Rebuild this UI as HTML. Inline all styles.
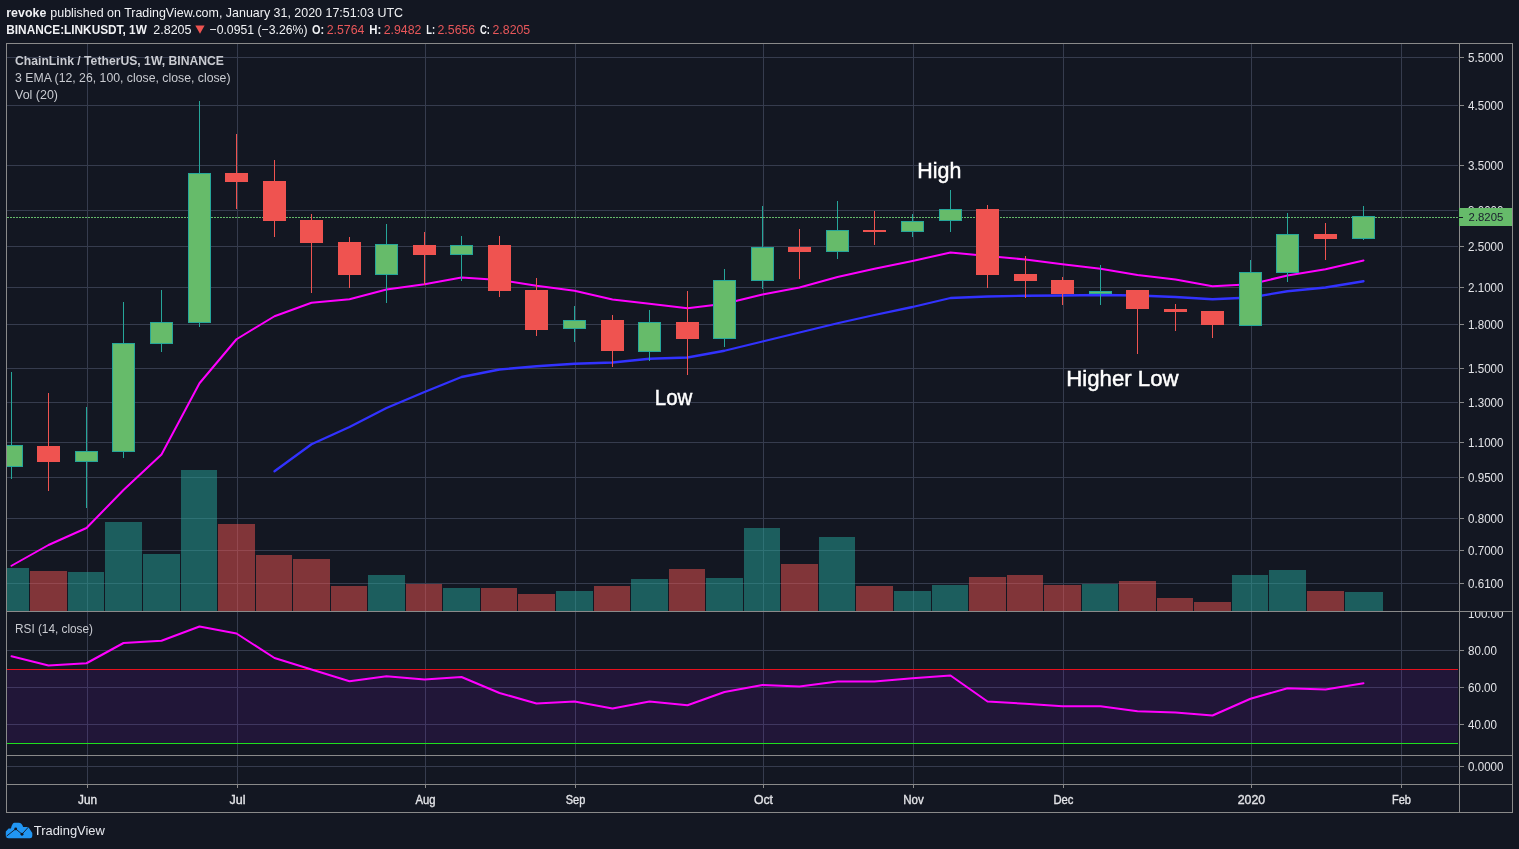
<!DOCTYPE html><html><head><meta charset="utf-8"><title>LINKUSDT chart</title><style>html,body{margin:0;padding:0;background:#131722;overflow:hidden}svg text{white-space:pre}</style></head><body><svg width="1519" height="849" viewBox="0 0 1519 849" style="display:block">
<rect width="1519" height="849" fill="#131722"/>
<defs><clipPath id="cp"><rect x="7" y="44" width="1452" height="568"/></clipPath><clipPath id="cr"><rect x="7" y="612" width="1452" height="143"/></clipPath><clipPath id="ca"><rect x="1460" y="612" width="52" height="143"/></clipPath></defs>
<g shape-rendering="crispEdges" fill="#363c4e">
<rect x="87" y="44" width="1" height="567"/>
<rect x="87" y="612" width="1" height="143"/>
<rect x="87" y="756" width="1" height="28"/>
<rect x="237" y="44" width="1" height="567"/>
<rect x="237" y="612" width="1" height="143"/>
<rect x="237" y="756" width="1" height="28"/>
<rect x="425" y="44" width="1" height="567"/>
<rect x="425" y="612" width="1" height="143"/>
<rect x="425" y="756" width="1" height="28"/>
<rect x="575" y="44" width="1" height="567"/>
<rect x="575" y="612" width="1" height="143"/>
<rect x="575" y="756" width="1" height="28"/>
<rect x="763" y="44" width="1" height="567"/>
<rect x="763" y="612" width="1" height="143"/>
<rect x="763" y="756" width="1" height="28"/>
<rect x="913" y="44" width="1" height="567"/>
<rect x="913" y="612" width="1" height="143"/>
<rect x="913" y="756" width="1" height="28"/>
<rect x="1063" y="44" width="1" height="567"/>
<rect x="1063" y="612" width="1" height="143"/>
<rect x="1063" y="756" width="1" height="28"/>
<rect x="1251" y="44" width="1" height="567"/>
<rect x="1251" y="612" width="1" height="143"/>
<rect x="1251" y="756" width="1" height="28"/>
<rect x="1401" y="44" width="1" height="567"/>
<rect x="1401" y="612" width="1" height="143"/>
<rect x="1401" y="756" width="1" height="28"/>
<rect x="7" y="57" width="1451" height="1"/>
<rect x="7" y="105" width="1451" height="1"/>
<rect x="7" y="165" width="1451" height="1"/>
<rect x="7" y="210" width="1451" height="1"/>
<rect x="7" y="246" width="1451" height="1"/>
<rect x="7" y="287" width="1451" height="1"/>
<rect x="7" y="324" width="1451" height="1"/>
<rect x="7" y="368" width="1451" height="1"/>
<rect x="7" y="402" width="1451" height="1"/>
<rect x="7" y="442" width="1451" height="1"/>
<rect x="7" y="477" width="1451" height="1"/>
<rect x="7" y="518" width="1451" height="1"/>
<rect x="7" y="550" width="1451" height="1"/>
<rect x="7" y="583" width="1451" height="1"/>
<rect x="7" y="650" width="1451" height="1"/>
<rect x="7" y="687" width="1451" height="1"/>
<rect x="7" y="724" width="1451" height="1"/>
<rect x="7" y="766" width="1451" height="1"/>
</g>
<rect x="7" y="669" width="1451" height="75" fill="#9915ff" fill-opacity="0.1" shape-rendering="crispEdges"/>
<rect x="7" y="669" width="1451" height="1" fill="#e8101c" shape-rendering="crispEdges"/>
<rect x="7" y="743" width="1451" height="1" fill="#1ee01e" shape-rendering="crispEdges"/>
<g shape-rendering="crispEdges" clip-path="url(#cp)">
<rect x="-7" y="568" width="36" height="43" fill="#26a69a" fill-opacity="0.5"/>
<rect x="30" y="571" width="37" height="40" fill="#ef5350" fill-opacity="0.5"/>
<rect x="68" y="572" width="36" height="39" fill="#26a69a" fill-opacity="0.5"/>
<rect x="105" y="522" width="37" height="89" fill="#26a69a" fill-opacity="0.5"/>
<rect x="143" y="554" width="37" height="57" fill="#26a69a" fill-opacity="0.5"/>
<rect x="181" y="470" width="36" height="141" fill="#26a69a" fill-opacity="0.5"/>
<rect x="218" y="524" width="37" height="87" fill="#ef5350" fill-opacity="0.5"/>
<rect x="256" y="555" width="36" height="56" fill="#ef5350" fill-opacity="0.5"/>
<rect x="293" y="559" width="37" height="52" fill="#ef5350" fill-opacity="0.5"/>
<rect x="331" y="586" width="36" height="25" fill="#ef5350" fill-opacity="0.5"/>
<rect x="368" y="575" width="37" height="36" fill="#26a69a" fill-opacity="0.5"/>
<rect x="406" y="584" width="36" height="27" fill="#ef5350" fill-opacity="0.5"/>
<rect x="443" y="588" width="37" height="23" fill="#26a69a" fill-opacity="0.5"/>
<rect x="481" y="588" width="36" height="23" fill="#ef5350" fill-opacity="0.5"/>
<rect x="518" y="594" width="37" height="17" fill="#ef5350" fill-opacity="0.5"/>
<rect x="556" y="591" width="37" height="20" fill="#26a69a" fill-opacity="0.5"/>
<rect x="594" y="586" width="36" height="25" fill="#ef5350" fill-opacity="0.5"/>
<rect x="631" y="579" width="37" height="32" fill="#26a69a" fill-opacity="0.5"/>
<rect x="669" y="569" width="36" height="42" fill="#ef5350" fill-opacity="0.5"/>
<rect x="706" y="578" width="37" height="33" fill="#26a69a" fill-opacity="0.5"/>
<rect x="744" y="528" width="36" height="83" fill="#26a69a" fill-opacity="0.5"/>
<rect x="781" y="564" width="37" height="47" fill="#ef5350" fill-opacity="0.5"/>
<rect x="819" y="537" width="36" height="74" fill="#26a69a" fill-opacity="0.5"/>
<rect x="856" y="586" width="37" height="25" fill="#ef5350" fill-opacity="0.5"/>
<rect x="894" y="591" width="37" height="20" fill="#26a69a" fill-opacity="0.5"/>
<rect x="932" y="585" width="36" height="26" fill="#26a69a" fill-opacity="0.5"/>
<rect x="969" y="577" width="37" height="34" fill="#ef5350" fill-opacity="0.5"/>
<rect x="1007" y="575" width="36" height="36" fill="#ef5350" fill-opacity="0.5"/>
<rect x="1044" y="585" width="37" height="26" fill="#ef5350" fill-opacity="0.5"/>
<rect x="1082" y="584" width="36" height="27" fill="#26a69a" fill-opacity="0.5"/>
<rect x="1119" y="581" width="37" height="30" fill="#ef5350" fill-opacity="0.5"/>
<rect x="1157" y="598" width="36" height="13" fill="#ef5350" fill-opacity="0.5"/>
<rect x="1194" y="602" width="37" height="9" fill="#ef5350" fill-opacity="0.5"/>
<rect x="1232" y="575" width="36" height="36" fill="#26a69a" fill-opacity="0.5"/>
<rect x="1269" y="570" width="37" height="41" fill="#26a69a" fill-opacity="0.5"/>
<rect x="1307" y="591" width="37" height="20" fill="#ef5350" fill-opacity="0.5"/>
<rect x="1345" y="592" width="38" height="19" fill="#26a69a" fill-opacity="0.5"/>
</g>
<line x1="7" y1="217.5" x2="1458" y2="217.5" stroke="#66bb6a" stroke-width="1" stroke-dasharray="2 1" shape-rendering="crispEdges"/>
<polyline points="274.50,471.25 311.50,444.25 349.50,427.00 386.50,408.00 424.50,392.00 461.50,377.00 499.50,369.50 536.50,366.25 574.50,363.75 612.50,362.50 649.50,358.75 687.50,357.50 724.50,350.75 762.50,341.50 799.50,332.50 837.50,323.25 874.50,315.00 912.50,307.00 950.50,298.00 987.50,296.50 1025.50,295.75 1062.50,295.50 1100.50,295.00 1137.50,295.50 1175.50,297.00 1212.50,299.25 1250.50,297.50 1287.50,291.25 1325.50,287.50 1363.50,281.25" fill="none" stroke="#3232ff" stroke-width="2.3" stroke-linejoin="round" stroke-linecap="round" clip-path="url(#cp)"/>
<polyline points="11.50,565.75 48.50,545.00 86.50,528.00 123.50,490.00 161.50,454.50 199.50,383.25 236.50,339.25 274.50,316.25 311.50,302.75 349.50,299.25 386.50,289.50 424.50,284.25 461.50,277.50 499.50,280.00 536.50,285.75 574.50,290.75 612.50,299.50 649.50,303.75 687.50,308.25 724.50,303.75 762.50,294.50 799.50,287.50 837.50,277.00 874.50,268.75 912.50,261.00 950.50,252.50 987.50,256.00 1025.50,259.50 1062.50,264.25 1100.50,268.75 1137.50,275.00 1175.50,279.50 1212.50,286.25 1250.50,284.25 1287.50,275.50 1325.50,269.25 1363.50,260.50" fill="none" stroke="#ff00ff" stroke-width="2" stroke-linejoin="round" stroke-linecap="round" clip-path="url(#cp)"/>
<g shape-rendering="crispEdges" clip-path="url(#cp)">
<rect x="11" y="372" width="1" height="107" fill="#26a69a"/>
<rect x="0" y="445" width="23" height="22" fill="#26a69a"/>
<rect x="1" y="446" width="21" height="20" fill="#66bb6a"/>
<rect x="48" y="393" width="1" height="98" fill="#ef5350"/>
<rect x="37" y="446" width="23" height="16" fill="#ef5350"/>
<rect x="86" y="407" width="1" height="101" fill="#26a69a"/>
<rect x="75" y="451" width="23" height="11" fill="#26a69a"/>
<rect x="76" y="452" width="21" height="9" fill="#66bb6a"/>
<rect x="123" y="302" width="1" height="156" fill="#26a69a"/>
<rect x="112" y="343" width="23" height="109" fill="#26a69a"/>
<rect x="113" y="344" width="21" height="107" fill="#66bb6a"/>
<rect x="161" y="290" width="1" height="62" fill="#26a69a"/>
<rect x="150" y="322" width="23" height="22" fill="#26a69a"/>
<rect x="151" y="323" width="21" height="20" fill="#66bb6a"/>
<rect x="199" y="101" width="1" height="226" fill="#26a69a"/>
<rect x="188" y="173" width="23" height="150" fill="#26a69a"/>
<rect x="189" y="174" width="21" height="148" fill="#66bb6a"/>
<rect x="236" y="134" width="1" height="75" fill="#ef5350"/>
<rect x="225" y="173" width="23" height="9" fill="#ef5350"/>
<rect x="274" y="160" width="1" height="77" fill="#ef5350"/>
<rect x="263" y="181" width="23" height="40" fill="#ef5350"/>
<rect x="311" y="214" width="1" height="79" fill="#ef5350"/>
<rect x="300" y="220" width="23" height="23" fill="#ef5350"/>
<rect x="349" y="237" width="1" height="51" fill="#ef5350"/>
<rect x="338" y="242" width="23" height="33" fill="#ef5350"/>
<rect x="386" y="224" width="1" height="79" fill="#26a69a"/>
<rect x="375" y="244" width="23" height="31" fill="#26a69a"/>
<rect x="376" y="245" width="21" height="29" fill="#66bb6a"/>
<rect x="424" y="232" width="1" height="53" fill="#ef5350"/>
<rect x="413" y="245" width="23" height="10" fill="#ef5350"/>
<rect x="461" y="236" width="1" height="45" fill="#26a69a"/>
<rect x="450" y="245" width="23" height="10" fill="#26a69a"/>
<rect x="451" y="246" width="21" height="8" fill="#66bb6a"/>
<rect x="499" y="236" width="1" height="61" fill="#ef5350"/>
<rect x="488" y="245" width="23" height="46" fill="#ef5350"/>
<rect x="536" y="278" width="1" height="58" fill="#ef5350"/>
<rect x="525" y="290" width="23" height="40" fill="#ef5350"/>
<rect x="574" y="306" width="1" height="36" fill="#26a69a"/>
<rect x="563" y="320" width="23" height="9" fill="#26a69a"/>
<rect x="564" y="321" width="21" height="7" fill="#66bb6a"/>
<rect x="612" y="315" width="1" height="52" fill="#ef5350"/>
<rect x="601" y="320" width="23" height="31" fill="#ef5350"/>
<rect x="649" y="310" width="1" height="51" fill="#26a69a"/>
<rect x="638" y="322" width="23" height="30" fill="#26a69a"/>
<rect x="639" y="323" width="21" height="28" fill="#66bb6a"/>
<rect x="687" y="291" width="1" height="84" fill="#ef5350"/>
<rect x="676" y="322" width="23" height="17" fill="#ef5350"/>
<rect x="724" y="269" width="1" height="78" fill="#26a69a"/>
<rect x="713" y="280" width="23" height="59" fill="#26a69a"/>
<rect x="714" y="281" width="21" height="57" fill="#66bb6a"/>
<rect x="762" y="206" width="1" height="83" fill="#26a69a"/>
<rect x="751" y="247" width="23" height="34" fill="#26a69a"/>
<rect x="752" y="248" width="21" height="32" fill="#66bb6a"/>
<rect x="799" y="229" width="1" height="50" fill="#ef5350"/>
<rect x="788" y="247" width="23" height="5" fill="#ef5350"/>
<rect x="837" y="201" width="1" height="58" fill="#26a69a"/>
<rect x="826" y="230" width="23" height="22" fill="#26a69a"/>
<rect x="827" y="231" width="21" height="20" fill="#66bb6a"/>
<rect x="874" y="211" width="1" height="34" fill="#ef5350"/>
<rect x="863" y="230" width="23" height="2" fill="#ef5350"/>
<rect x="912" y="214" width="1" height="23" fill="#26a69a"/>
<rect x="901" y="221" width="23" height="11" fill="#26a69a"/>
<rect x="902" y="222" width="21" height="9" fill="#66bb6a"/>
<rect x="950" y="190" width="1" height="42" fill="#26a69a"/>
<rect x="939" y="209" width="23" height="12" fill="#26a69a"/>
<rect x="940" y="210" width="21" height="10" fill="#66bb6a"/>
<rect x="987" y="205" width="1" height="83" fill="#ef5350"/>
<rect x="976" y="209" width="23" height="66" fill="#ef5350"/>
<rect x="1025" y="256" width="1" height="42" fill="#ef5350"/>
<rect x="1014" y="274" width="23" height="7" fill="#ef5350"/>
<rect x="1062" y="277" width="1" height="28" fill="#ef5350"/>
<rect x="1051" y="280" width="23" height="14" fill="#ef5350"/>
<rect x="1100" y="265" width="1" height="40" fill="#26a69a"/>
<rect x="1089" y="291" width="23" height="3" fill="#26a69a"/>
<rect x="1090" y="292" width="21" height="1" fill="#66bb6a"/>
<rect x="1137" y="290" width="1" height="64" fill="#ef5350"/>
<rect x="1126" y="290" width="23" height="19" fill="#ef5350"/>
<rect x="1175" y="304" width="1" height="27" fill="#ef5350"/>
<rect x="1164" y="309" width="23" height="3" fill="#ef5350"/>
<rect x="1212" y="311" width="1" height="27" fill="#ef5350"/>
<rect x="1201" y="311" width="23" height="14" fill="#ef5350"/>
<rect x="1250" y="260" width="1" height="66" fill="#26a69a"/>
<rect x="1239" y="272" width="23" height="54" fill="#26a69a"/>
<rect x="1240" y="273" width="21" height="52" fill="#66bb6a"/>
<rect x="1287" y="213" width="1" height="69" fill="#26a69a"/>
<rect x="1276" y="234" width="23" height="39" fill="#26a69a"/>
<rect x="1277" y="235" width="21" height="37" fill="#66bb6a"/>
<rect x="1325" y="223" width="1" height="37" fill="#ef5350"/>
<rect x="1314" y="234" width="23" height="5" fill="#ef5350"/>
<rect x="1363" y="206" width="1" height="34" fill="#26a69a"/>
<rect x="1352" y="216" width="23" height="23" fill="#26a69a"/>
<rect x="1353" y="217" width="21" height="21" fill="#66bb6a"/>
</g>
<polyline points="11.50,656.25 48.50,665.50 86.50,663.25 123.50,643.00 161.50,640.75 199.50,626.50 236.50,633.50 274.50,658.00 311.50,669.50 349.50,681.25 386.50,676.25 424.50,679.50 461.50,677.00 499.50,693.00 536.50,703.50 574.50,701.50 612.50,708.50 649.50,701.50 687.50,705.25 724.50,692.00 762.50,685.00 799.50,686.50 837.50,681.50 874.50,681.50 912.50,678.25 950.50,675.50 987.50,701.50 1025.50,703.75 1062.50,706.25 1100.50,706.25 1137.50,711.25 1175.50,712.50 1212.50,715.50 1250.50,698.75 1287.50,688.25 1325.50,689.50 1363.50,683.25" fill="none" stroke="#ff00ff" stroke-width="2" stroke-linejoin="round" stroke-linecap="round" clip-path="url(#cr)"/>
<g shape-rendering="crispEdges" fill="#8a8a8a">
<rect x="6" y="43" width="1507" height="1"/>
<rect x="6" y="812" width="1507" height="1"/>
<rect x="6" y="43" width="1" height="770"/>
<rect x="1512" y="43" width="1" height="770"/>
<rect x="1459" y="43" width="1" height="770"/>
<rect x="6" y="611" width="1507" height="1"/>
<rect x="6" y="755" width="1507" height="1"/>
<rect x="6" y="784" width="1507" height="1"/>
<rect x="87" y="785" width="1" height="3"/>
<rect x="237" y="785" width="1" height="3"/>
<rect x="425" y="785" width="1" height="3"/>
<rect x="575" y="785" width="1" height="3"/>
<rect x="763" y="785" width="1" height="3"/>
<rect x="913" y="785" width="1" height="3"/>
<rect x="1063" y="785" width="1" height="3"/>
<rect x="1251" y="785" width="1" height="3"/>
<rect x="1401" y="785" width="1" height="3"/>
<rect x="1460" y="57" width="4" height="1"/>
<rect x="1460" y="105" width="4" height="1"/>
<rect x="1460" y="165" width="4" height="1"/>
<rect x="1460" y="210" width="4" height="1"/>
<rect x="1460" y="246" width="4" height="1"/>
<rect x="1460" y="287" width="4" height="1"/>
<rect x="1460" y="324" width="4" height="1"/>
<rect x="1460" y="368" width="4" height="1"/>
<rect x="1460" y="402" width="4" height="1"/>
<rect x="1460" y="442" width="4" height="1"/>
<rect x="1460" y="477" width="4" height="1"/>
<rect x="1460" y="518" width="4" height="1"/>
<rect x="1460" y="550" width="4" height="1"/>
<rect x="1460" y="583" width="4" height="1"/>
<rect x="1460" y="650" width="4" height="1"/>
<rect x="1460" y="687" width="4" height="1"/>
<rect x="1460" y="724" width="4" height="1"/>
<rect x="1460" y="766" width="4" height="1"/>
</g>
<g font-family="Liberation Sans, Arial, sans-serif">
<g clip-path="url(#ca)">
<text x="1468" y="617.5" font-size="12" fill="#e2e3e7" text-anchor="start" textLength="35.5" lengthAdjust="spacingAndGlyphs" >100.00</text>
</g>
<text x="1468" y="214.5" font-size="12" fill="#e2e3e7" text-anchor="start" textLength="35.5" lengthAdjust="spacingAndGlyphs" >3.0000</text>
<rect x="1459" y="208" width="53" height="18" fill="#66bb6a" shape-rendering="crispEdges"/>
<rect x="1459" y="217" width="4" height="1" fill="#131722" shape-rendering="crispEdges"/>
<text x="1468.6" y="220.7" font-size="11.6" fill="#1a1e2e" text-anchor="start" textLength="34.7" lengthAdjust="spacingAndGlyphs" >2.8205</text>
<text x="1468" y="61.5" font-size="12" fill="#e2e3e7" text-anchor="start" textLength="35.5" lengthAdjust="spacingAndGlyphs" >5.5000</text>
<text x="1468" y="109.5" font-size="12" fill="#e2e3e7" text-anchor="start" textLength="35.5" lengthAdjust="spacingAndGlyphs" >4.5000</text>
<text x="1468" y="169.5" font-size="12" fill="#e2e3e7" text-anchor="start" textLength="35.5" lengthAdjust="spacingAndGlyphs" >3.5000</text>
<text x="1468" y="250.5" font-size="12" fill="#e2e3e7" text-anchor="start" textLength="35.5" lengthAdjust="spacingAndGlyphs" >2.5000</text>
<text x="1468" y="291.5" font-size="12" fill="#e2e3e7" text-anchor="start" textLength="35.5" lengthAdjust="spacingAndGlyphs" >2.1000</text>
<text x="1468" y="328.5" font-size="12" fill="#e2e3e7" text-anchor="start" textLength="35.5" lengthAdjust="spacingAndGlyphs" >1.8000</text>
<text x="1468" y="372.5" font-size="12" fill="#e2e3e7" text-anchor="start" textLength="35.5" lengthAdjust="spacingAndGlyphs" >1.5000</text>
<text x="1468" y="406.5" font-size="12" fill="#e2e3e7" text-anchor="start" textLength="35.5" lengthAdjust="spacingAndGlyphs" >1.3000</text>
<text x="1468" y="446.5" font-size="12" fill="#e2e3e7" text-anchor="start" textLength="35.5" lengthAdjust="spacingAndGlyphs" >1.1000</text>
<text x="1468" y="481.5" font-size="12" fill="#e2e3e7" text-anchor="start" textLength="35.5" lengthAdjust="spacingAndGlyphs" >0.9500</text>
<text x="1468" y="522.5" font-size="12" fill="#e2e3e7" text-anchor="start" textLength="35.5" lengthAdjust="spacingAndGlyphs" >0.8000</text>
<text x="1468" y="554.5" font-size="12" fill="#e2e3e7" text-anchor="start" textLength="35.5" lengthAdjust="spacingAndGlyphs" >0.7000</text>
<text x="1468" y="587.5" font-size="12" fill="#e2e3e7" text-anchor="start" textLength="35.5" lengthAdjust="spacingAndGlyphs" >0.6100</text>
<text x="1468" y="654.5" font-size="12" fill="#e2e3e7" text-anchor="start" textLength="29" lengthAdjust="spacingAndGlyphs" >80.00</text>
<text x="1468" y="691.5" font-size="12" fill="#e2e3e7" text-anchor="start" textLength="29" lengthAdjust="spacingAndGlyphs" >60.00</text>
<text x="1468" y="728.5" font-size="12" fill="#e2e3e7" text-anchor="start" textLength="29" lengthAdjust="spacingAndGlyphs" >40.00</text>
<text x="1468" y="770.5" font-size="12" fill="#e2e3e7" text-anchor="start" textLength="35.5" lengthAdjust="spacingAndGlyphs" >0.0000</text>
<text x="87.5" y="804" font-size="12" fill="#e2e3e7" text-anchor="middle" textLength="19" lengthAdjust="spacingAndGlyphs" stroke="#e2e3e7" stroke-width="0.35">Jun</text>
<text x="237.5" y="804" font-size="12" fill="#e2e3e7" text-anchor="middle" textLength="16" lengthAdjust="spacingAndGlyphs" stroke="#e2e3e7" stroke-width="0.35">Jul</text>
<text x="425.5" y="804" font-size="12" fill="#e2e3e7" text-anchor="middle" textLength="20" lengthAdjust="spacingAndGlyphs" stroke="#e2e3e7" stroke-width="0.35">Aug</text>
<text x="575.5" y="804" font-size="12" fill="#e2e3e7" text-anchor="middle" textLength="19.5" lengthAdjust="spacingAndGlyphs" stroke="#e2e3e7" stroke-width="0.35">Sep</text>
<text x="763.5" y="804" font-size="12" fill="#e2e3e7" text-anchor="middle" textLength="19" lengthAdjust="spacingAndGlyphs" stroke="#e2e3e7" stroke-width="0.35">Oct</text>
<text x="913.5" y="804" font-size="12" fill="#e2e3e7" text-anchor="middle" textLength="20.5" lengthAdjust="spacingAndGlyphs" stroke="#e2e3e7" stroke-width="0.35">Nov</text>
<text x="1063.5" y="804" font-size="12" fill="#e2e3e7" text-anchor="middle" textLength="20" lengthAdjust="spacingAndGlyphs" stroke="#e2e3e7" stroke-width="0.35">Dec</text>
<text x="1251.5" y="804" font-size="12" fill="#e2e3e7" text-anchor="middle" textLength="27.5" lengthAdjust="spacingAndGlyphs" stroke="#e2e3e7" stroke-width="0.35">2020</text>
<text x="1401.5" y="804" font-size="12" fill="#e2e3e7" text-anchor="middle" textLength="19" lengthAdjust="spacingAndGlyphs" stroke="#e2e3e7" stroke-width="0.35">Feb</text>
<text x="6.3" y="17" font-size="13" fill="#f0f1f4" font-weight="bold" text-anchor="start" textLength="40" lengthAdjust="spacingAndGlyphs" >revoke</text>
<text x="50.3" y="17" font-size="13" fill="#f0f1f4" text-anchor="start" textLength="352.7" lengthAdjust="spacingAndGlyphs" >published on TradingView.com, January 31, 2020 17:51:03 UTC</text>
<text x="6.3" y="34" font-size="13" fill="#f0f1f4" font-weight="bold" text-anchor="start" textLength="140.5" lengthAdjust="spacingAndGlyphs" >BINANCE:LINKUSDT, 1W</text>
<text x="153.3" y="34" font-size="13" fill="#f0f1f4" text-anchor="start" textLength="38.2" lengthAdjust="spacingAndGlyphs" >2.8205</text>
<path d="M195.3 25.5 L204.6 25.5 L200 33.8 Z" fill="#ef5350"/>
<text x="209.5" y="34" font-size="13" fill="#f0f1f4" text-anchor="start" textLength="98" lengthAdjust="spacingAndGlyphs" >−0.0951 (−3.26%)</text>
<text x="312" y="34" font-size="13" fill="#f0f1f4" font-weight="bold" text-anchor="start" textLength="12.2" lengthAdjust="spacingAndGlyphs" >O:</text>
<text x="326.7" y="34" font-size="13" fill="#e8575a" text-anchor="start" textLength="37.7" lengthAdjust="spacingAndGlyphs" >2.5764</text>
<text x="369.2" y="34" font-size="13" fill="#f0f1f4" font-weight="bold" text-anchor="start" textLength="12" lengthAdjust="spacingAndGlyphs" >H:</text>
<text x="383.7" y="34" font-size="13" fill="#e8575a" text-anchor="start" textLength="37.7" lengthAdjust="spacingAndGlyphs" >2.9482</text>
<text x="426.2" y="34" font-size="13" fill="#f0f1f4" font-weight="bold" text-anchor="start" textLength="8.8" lengthAdjust="spacingAndGlyphs" >L:</text>
<text x="437.5" y="34" font-size="13" fill="#e8575a" text-anchor="start" textLength="37.7" lengthAdjust="spacingAndGlyphs" >2.5656</text>
<text x="480" y="34" font-size="13" fill="#f0f1f4" font-weight="bold" text-anchor="start" textLength="10" lengthAdjust="spacingAndGlyphs" >C:</text>
<text x="492.5" y="34" font-size="13" fill="#e8575a" text-anchor="start" textLength="37.7" lengthAdjust="spacingAndGlyphs" >2.8205</text>
<text x="15" y="64.5" font-size="12.5" fill="#c9cbd1" font-weight="bold" text-anchor="start" textLength="209" lengthAdjust="spacingAndGlyphs" >ChainLink / TetherUS, 1W, BINANCE</text>
<text x="15" y="82" font-size="12.5" fill="#c9cbd1" text-anchor="start" textLength="215.5" lengthAdjust="spacingAndGlyphs" >3 EMA (12, 26, 100, close, close, close)</text>
<text x="15" y="99" font-size="12.5" fill="#c9cbd1" text-anchor="start" textLength="43" lengthAdjust="spacingAndGlyphs" >Vol (20)</text>
<text x="15" y="633" font-size="12.5" fill="#c9cbd1" text-anchor="start" textLength="78" lengthAdjust="spacingAndGlyphs" >RSI (14, close)</text>
<text x="917.3" y="178.3" font-size="21.8" fill="#ffffff" text-anchor="start" textLength="44" lengthAdjust="spacingAndGlyphs" stroke="#ffffff" stroke-width="0.45">High</text>
<text x="654.8" y="405.3" font-size="21.8" fill="#ffffff" text-anchor="start" textLength="37.5" lengthAdjust="spacingAndGlyphs" stroke="#ffffff" stroke-width="0.45">Low</text>
<text x="1066.3" y="386.3" font-size="21.8" fill="#ffffff" text-anchor="start" textLength="112.3" lengthAdjust="spacingAndGlyphs" stroke="#ffffff" stroke-width="0.45">Higher Low</text>
<text x="33.8" y="835" font-size="13" fill="#e6e8ee" text-anchor="start" textLength="71" lengthAdjust="spacingAndGlyphs" >TradingView</text>
</g>
<path d="M8.6 838.2 L29.9 838.2 Q32.3 838.2 32.3 835.9 L32.3 833 L28.3 826.9 L23.2 826.9 Q21.6 822.8 18.8 822.8 L14.6 822.8 Q12.2 822.8 10.9 828.5 L8.6 828.5 L5.8 831.5 L5.8 835.5 Q5.8 838.2 8.6 838.2 Z" fill="#2196f3"/><path d="M6.6 836.1 L15.7 828.9 L22 834.2 L28.6 826.9" fill="none" stroke="#131722" stroke-width="0.9"/><circle cx="15.7" cy="828.9" r="1.45" fill="#131722"/><circle cx="22" cy="834.2" r="1.45" fill="#131722"/>
</svg></body></html>
